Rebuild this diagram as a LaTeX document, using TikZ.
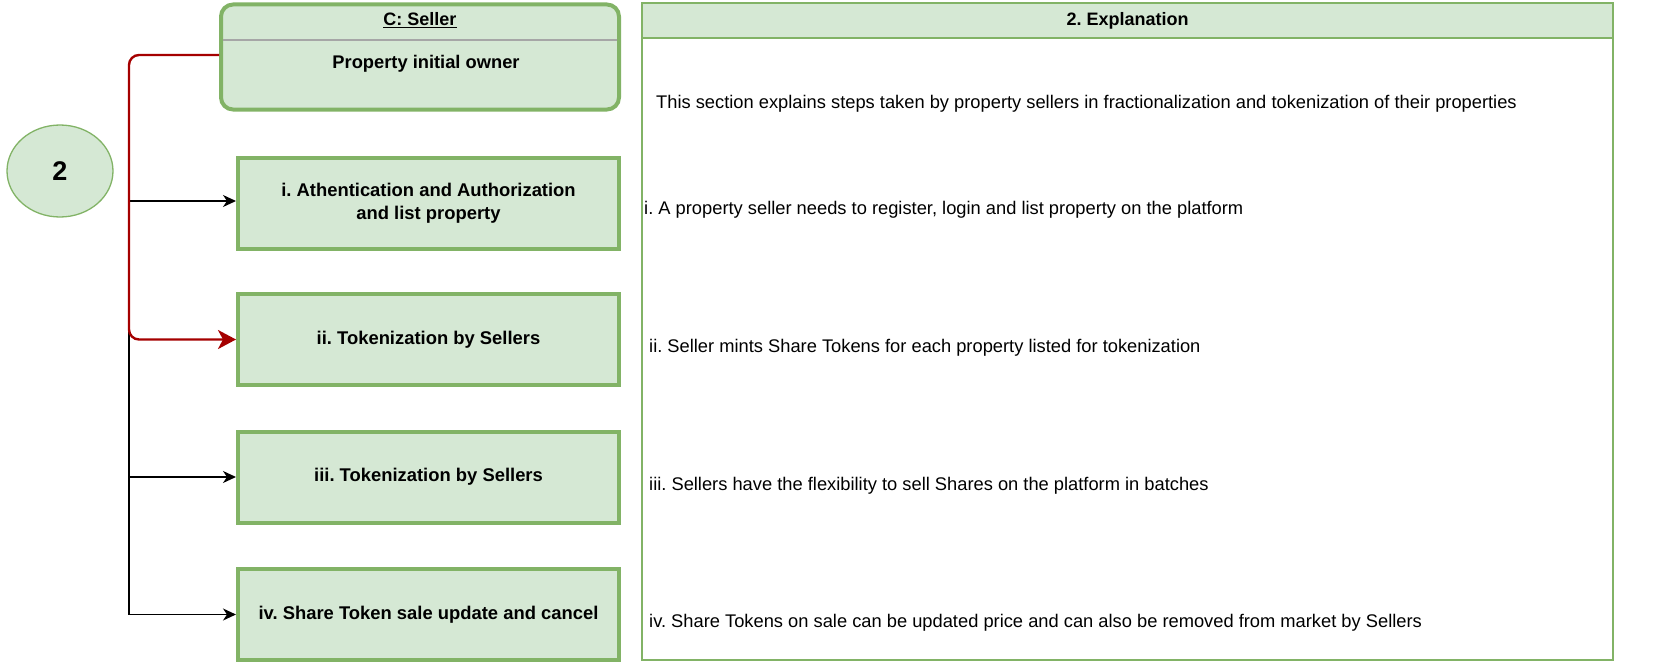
\documentclass[tikz,border=0pt]{standalone}
\usepackage{fontspec}
\setmainfont{Liberation Sans}
\frenchspacing
\usetikzlibrary{arrows.meta,shapes.geometric}
\definecolor{gfill}{HTML}{D5E8D4}
\definecolor{gline}{HTML}{82B366}
\definecolor{dred}{HTML}{A50000}
\tikzset{
  stepbox/.style={draw=gline, fill=gfill, line width=4pt, minimum width=381pt, minimum height=91pt, inner sep=0pt, align=center, font=\fontsize{18.4}{22.5}\selectfont\bfseries},
  expl/.style={anchor=west, inner sep=0pt, font=\fontsize{18.3}{22}\selectfont},
  blk/.style={draw=black, line width=1.4pt, -{Stealth[length=13pt,width=12pt,inset=4pt]}},
  redc/.style={draw=dred, line width=2.4pt, rounded corners=10pt, -{Stealth[length=18pt,width=19pt,inset=5pt]}}
}
\begin{document}
\begin{tikzpicture}[x=1pt,y=-1pt]
\useasboundingbox (0,0) rectangle (1664,669);
% Seller box
\node[draw=gline, fill=gfill, line width=4pt, rounded corners=12pt, minimum width=398pt, minimum height=105pt, inner sep=0pt] (seller) at (420,57) {};
\draw[draw=black!35, line width=1.2pt] (223,40) -- (617,40);
\node[font=\fontsize{18}{22}\selectfont\bfseries, inner sep=0pt] (sellerT) at (420,20) {\underline{C: Seller}};
\node[font=\fontsize{18.3}{22}\selectfont\bfseries, inner sep=0pt] (sellerS) at (426,64) {Property initial owner};
% circle
\node[draw=gline, fill=gfill, line width=1.3pt, ellipse, minimum width=106pt, minimum height=92pt, inner sep=0pt, font=\fontsize{27}{32}\selectfont\bfseries] (two) at (60,171) {2};
% step boxes
\node[stepbox] (b1) at (428.5,203) {i. Athentication and Authorization\\[1pt]and list property};
\node[stepbox] (b2) at (428.5,339.5) {ii. Tokenization by Sellers};
\node[stepbox] (b3) at (428.5,477) {iii. Tokenization by Sellers};
\node[stepbox] (b4) at (428.5,614.5) {iv. Share Token sale update and cancel};
% connectors
\coordinate (c1) at (129,201);
\coordinate (ctop) at (129,278);
\coordinate (c3) at (129,477);
\draw[blk] (ctop) |- (b4.west);
\draw[blk] (c1) -- (b1.west |- c1);
\draw[blk] (c3) -- (b3.west);
\draw[redc] (seller.west |- 0,55) -| (129,200) |- (b2.west);
% explanation table
\node[draw=gline, line width=1.5pt, minimum width=971pt, minimum height=657pt, inner sep=0pt] (table) at (1127.5,331.5) {};
\node[draw=gline, fill=gfill, line width=1.5pt, minimum width=971pt, minimum height=35pt, inner sep=0pt, font=\fontsize{18}{22}\selectfont\bfseries] (thead) at (1127.5,20.5) {2. Explanation};
\node[expl] (e0) at (656,104) {This section explains steps taken by property sellers in fractionalization and tokenization of their properties};
\node[expl] (e1) at (644,210) {i. A property seller needs to register, login and list property on the platform};
\node[expl] (e2) at (649,348) {ii. Seller mints Share Tokens for each property listed for tokenization};
\node[expl] (e3) at (649,486) {iii. Sellers have the flexibility to sell Shares on the platform in batches};
\node[expl] (e4) at (649,623) {iv. Share Tokens on sale can be updated price and can also be removed from market by Sellers};
\end{tikzpicture}
\end{document}
